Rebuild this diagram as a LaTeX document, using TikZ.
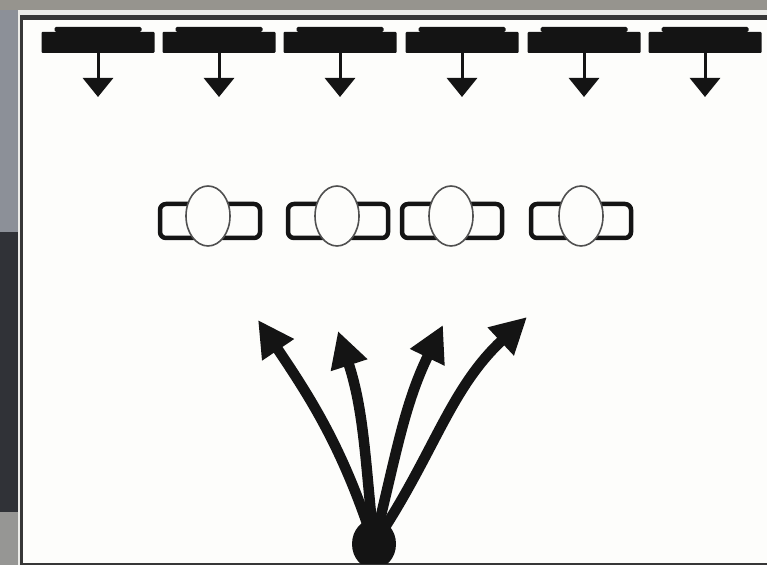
\documentclass[tikz,border=0pt]{standalone}
\usetikzlibrary{arrows.meta,shapes.geometric}
\definecolor{ink}{RGB}{20,20,20}
\definecolor{photoA}{RGB}{140,144,152}
\definecolor{photoB}{RGB}{48,50,55}
\definecolor{photoC}{RGB}{150,150,148}
\definecolor{photoTop}{RGB}{150,148,142}
\definecolor{frameLight}{RGB}{236,236,233}
\definecolor{frameDark}{RGB}{55,55,55}
\definecolor{paper}{RGB}{253,253,251}
\definecolor{eggline}{RGB}{80,80,80}
\begin{document}
\begin{tikzpicture}[x=1pt,y=1pt,
  barbody/.style={rectangle, fill=ink, minimum width=113pt, minimum height=21pt, inner sep=0pt, rounded corners=1pt},
  bartab/.style={rectangle, fill=ink, minimum width=87pt, minimum height=5pt, inner sep=0pt, rounded corners=1.5pt},
  droparrow/.style={draw=ink, line width=3pt, -{Triangle[length=19pt,width=30pt]}},
  ring/.style={rectangle, draw=ink, line width=4.5pt, fill=paper, minimum width=100pt, minimum height=34pt, rounded corners=6pt, inner sep=0pt},
  egg/.style={ellipse, draw=eggline, line width=1.6pt, fill=paper, minimum width=44pt, minimum height=60pt, inner sep=0pt},
  fan/.style={draw=ink, line width=10.5pt, -{Triangle[length=36pt,width=36pt]}},
  dotnode/.style={ellipse, fill=ink, minimum width=44pt, minimum height=50pt, inner sep=0pt}]
\useasboundingbox (0,0) rectangle (767,565);
% photo background
\fill[photoA] (0,565) rectangle (20,333);
\fill[photoB] (0,333) rectangle (20,53);
\fill[photoC] (0,53) rectangle (20,0);
\fill[photoTop] (0,555) rectangle (767,565);
% frame
\fill[frameLight] (18,0) rectangle (767,555);
\fill[frameDark] (20,0) rectangle (767,550);
\fill[paper] (23,2) rectangle (767,545);
\begin{scope}
\clip (23,2) rectangle (767,545);
% top bars with drop arrows
\foreach \i/\x in {1/98,2/219,3/340,4/462,5/584,6/705}{
  \node[bartab] (tab\i) at (\x,535.5) {};
  \node[barbody] (b\i) at (\x,522.5) {};
  \coordinate (a\i) at (\x,468);
  \draw[droparrow] (b\i.south) -- (a\i);
}
% middle row
\foreach \i/\x/\e in {1/210/208,2/338/337,3/452/451,4/581/581}{
  \node[ring] (r\i) at (\x,344) {};
  \node[egg] (e\i) at (\e,349) {};
}
% fan of arrows
\node[dotnode] (d) at (374,21) {};
\coordinate (t1) at (258,245);
\coordinate (t2) at (338,234);
\coordinate (t3) at (443,240);
\coordinate (t4) at (527,248);
\draw[fan] (d.center) to[out=108,in=-56] (t1);
\draw[fan] (d.center) to[out=96,in=-72] (t2);
\draw[fan] (d.center) to[out=76,in=-116] (t3);
\draw[fan] (d.center) to[out=56,in=-137] (t4);
\end{scope}
\end{tikzpicture}
\end{document}
